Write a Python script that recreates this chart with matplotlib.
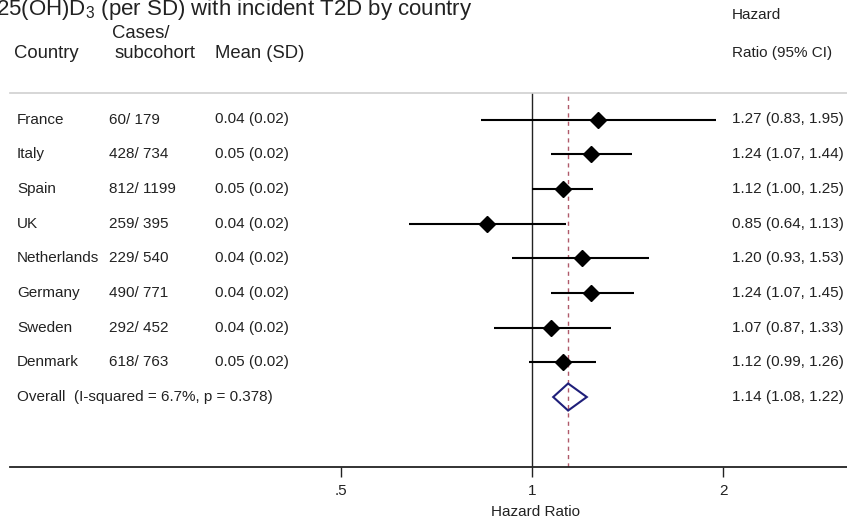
import matplotlib
matplotlib.use("Agg")
import matplotlib.pyplot as plt
import matplotlib.transforms as mtransforms
from matplotlib.ticker import FixedLocator, NullLocator
import numpy as np

plt.rcParams["font.family"] = ["Liberation Sans", "DejaVu Sans"]
plt.rcParams["mathtext.fontset"] = "custom"
plt.rcParams["mathtext.rm"] = "Liberation Sans"
plt.rcParams["mathtext.default"] = "regular"

# data
countries = ["France", "Italy", "Spain", "UK", "Netherlands", "Germany", "Sweden", "Denmark"]
cases = [60, 428, 812, 259, 229, 490, 292, 618]
subcohort = [179, 734, 1199, 395, 540, 771, 452, 763]
means = [0.04, 0.05, 0.05, 0.04, 0.04, 0.04, 0.04, 0.05]
sds = [0.02, 0.02, 0.02, 0.02, 0.02, 0.02, 0.02, 0.02]
hr = [1.27, 1.24, 1.12, 0.85, 1.20, 1.24, 1.07, 1.12]
hr_lo = [0.83, 1.07, 1.00, 0.64, 0.93, 1.07, 0.87, 0.99]
hr_hi = [1.95, 1.44, 1.25, 1.13, 1.53, 1.45, 1.33, 1.26]
overall_hr, overall_lo, overall_hi = 1.14, 1.08, 1.22
i_squared, p_het = 6.7, 0.378
tick_vals = [0.5, 1, 2]
tick_labels = [".5", "1", "2"]

W, H = 847, 522
fig = plt.figure(figsize=(W / 100, H / 100), dpi=100)


def fx(px):
    return px / W


def fy(py):
    return 1 - py / H


ax = fig.add_axes([fx(10), fy(467), fx(837), (467 - 93) / H])
ax.set_xscale("log")
# 1.0 sits at x=532px, 191px per doubling
ax.set_xlim(2 ** ((10 - 532) / 191), 2 ** ((847 - 532) / 191))
n = len(countries)
ax.set_ylim(1 + 347.5 / 34.69, 1 - 26.5 / 34.69)

rows = np.arange(1, n + 1)
overall_row = n + 1

for s in ["left", "right"]:
    ax.spines[s].set_visible(False)
ax.spines["top"].set_color("#cfcfcf")
ax.spines["top"].set_linewidth(1.2)
ax.spines["bottom"].set_color("#222222")
ax.spines["bottom"].set_linewidth(1.3)
ax.set_yticks([])
ax.xaxis.set_major_locator(FixedLocator(tick_vals))
ax.xaxis.set_minor_locator(NullLocator())
ax.set_xticklabels(tick_labels)
ax.tick_params(axis="x", direction="out", length=7, width=1, labelsize=11,
               colors="#222222", pad=5)
ax.set_xlabel("Hazard Ratio", fontsize=11, color="#222222", va="center")
ax.xaxis.set_label_coords((535 - 10) / 837, (467 - 512) / 374)

ax.axvline(1, color="#222222", lw=1, zorder=1)
ax.axvline(overall_hr, color="#b05a6a", lw=1, ls=(0, (3, 3)), zorder=1)

ax.hlines(rows, hr_lo, hr_hi, color="black", lw=1.5, zorder=2)
ax.plot(hr, rows, "D", color="black", ms=8, zorder=3)

dx = [overall_lo, overall_hr, overall_hi, overall_hr]
dy = [overall_row, overall_row - 0.39, overall_row, overall_row + 0.39]
ax.fill(dx, dy, facecolor="none", edgecolor="#1f1f7a", lw=1.5, zorder=3)

trans = mtransforms.blended_transform_factory(fig.transFigure, ax.transData)
txt = dict(fontsize=11, color="#222222", va="center", transform=trans)
for i in range(n):
    y = rows[i]
    ax.text(fx(17), y, countries[i], **txt)
    ax.text(fx(109), y, f"{cases[i]}/ {subcohort[i]}", **txt)
    ax.text(fx(215), y, f"{means[i]:.2f} ({sds[i]:.2f})", **txt)
    ax.text(fx(732), y, f"{hr[i]:.2f} ({hr_lo[i]:.2f}, {hr_hi[i]:.2f})", **txt)
ax.text(fx(17), overall_row, f"Overall  (I-squared = {i_squared}%, p = {p_het})", **txt)
ax.text(fx(732), overall_row,
        f"{overall_hr:.2f} ({overall_lo:.2f}, {overall_hi:.2f})", **txt)

# headers
hdr = dict(color="#222222", va="center")
fig.text(fx(14), fy(54), "Country", fontsize=13.3, **hdr)
fig.text(fx(112), fy(33), "Cases/", fontsize=13.3, **hdr)
fig.text(fx(115), fy(54), "subcohort", fontsize=13.3, **hdr)
fig.text(fx(215), fy(54), "Mean (SD)", fontsize=13.3, **hdr)
fig.text(fx(732), fy(15), "Hazard", fontsize=11, **hdr)
fig.text(fx(732), fy(53), "Ratio (95% CI)", fontsize=11, **hdr)

# title is clipped at the top-left edge in the reference too
fig.text(fx(-4), fy(15), r"25(OH)D$_3$ (per SD) with incident T2D by country",
         fontsize=16, color="#222222", va="baseline")

fig.savefig("out.png", dpi=100)
